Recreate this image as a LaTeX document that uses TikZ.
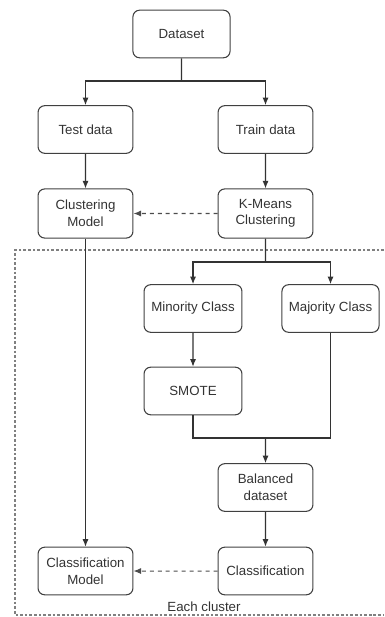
\documentclass[tikz,border=0pt]{standalone}
\usepackage{fontspec}
\setmainfont{Liberation Sans}
\usetikzlibrary{arrows.meta}

\begin{document}
\begin{tikzpicture}[scale=0.2646,
  block/.style={draw=black!75, line width=0.8pt, rounded corners=5pt, align=center,
    minimum width=2.51cm, minimum height=1.26cm, inner sep=1pt, text=black!80,
    font=\fontsize{10}{12.5}\selectfont},
  flow/.style={draw=black!80, line width=0.8pt, -{Latex[length=2mm,width=1.6mm]}},
  plain/.style={draw=black!80, line width=0.8pt},
  hint/.style={draw=black!70, line width=0.8pt, dashed, -{Latex[length=2mm,width=1.6mm]}}]
\useasboundingbox (0,0) rectangle (38.4,-61.7);
% cluster frame
\draw [black!50, line width=0.8pt, dash pattern=on 2pt off 1.5pt] (38.4,-25) -- (1.5,-25) -- (1.5,-61.5) -- (38.4,-61.5);
\node (each) at (20.4,-60.7) {\fontsize{10}{12}\selectfont\color{black!80}Each cluster};
% blocks
\node [block, minimum width=2.57cm] (dataset) at (18.15,-3.4) {Dataset};
\node [block] (test) at (8.55,-12.95) {Test data};
\node [block] (train) at (26.55,-12.95) {Train data};
\node [block, minimum height=1.3cm] (clustmodel) at (8.55,-21.35) {Clustering\\Model};
\node [block, minimum height=1.3cm] (kmeans) at (26.55,-21.35) {K-Means\\Clustering};
\node [block, minimum width=2.59cm] (minority) at (19.3,-30.85) {Minority Class};
\node [block, minimum width=2.57cm] (majority) at (33.05,-30.85) {Majority Class};
\node [block, minimum width=2.59cm] (smote) at (19.3,-39.1) {SMOTE};
\node [block] (balanced) at (26.55,-48.75) {Balanced\\dataset};
\node [block] (classif) at (26.55,-57.1) {Classification};
\node [block] (classmodel) at (8.55,-57.1) {Classification\\Model};
% junctions
\coordinate (split) at (18.15,-8.1);
\coordinate (branch) at (26.55,-26.2);
\coordinate (merge) at (26.55,-43.8);
% connectors
\draw [plain] (dataset) -- (split);
\draw [flow] (split) -| (test);
\draw [flow] (split) -| (train);
\draw [flow] (test) -- (clustmodel);
\draw [flow] (train) -- (kmeans);
\draw [hint] (kmeans) -- (clustmodel);
\draw [plain] (kmeans) -- (branch);
\draw [flow] (branch) -| (minority);
\draw [flow] (branch) -| (majority);
\draw [flow] (minority) -- (smote);
\draw [plain] (smote) |- (merge);
\draw [plain] (majority) |- (merge);
\draw [flow] (merge) -- (balanced);
\draw [flow] (balanced) -- (classif);
\draw [hint] (classif) -- (classmodel);
\draw [flow] (clustmodel) -- (classmodel);
\end{tikzpicture}
\end{document}
